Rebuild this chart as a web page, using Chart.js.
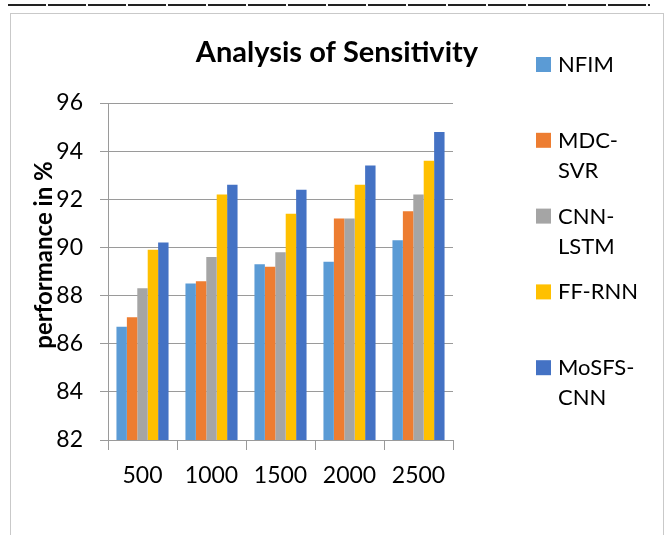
<!DOCTYPE html>
<html>
<head>
<meta charset="utf-8">
<script src="https://cdn.jsdelivr.net/npm/chart.js@4.4.0/dist/chart.umd.min.js"></script>
<style>
  html, body { margin: 0; padding: 0; background: #fff; }
  #wrap { position: relative; width: 665px; height: 535px; overflow: hidden; }
  #rule { position: absolute; left: 8px; top: 4px; width: 642px; height: 2px;
          background: repeating-linear-gradient(90deg, #222 0 38px, #fff 38px 40px); }
  #frame { position: absolute; left: 10px; top: 13px; width: 654px; height: 540px;
           border: 1px solid #c9c9c9; box-sizing: border-box; }
  canvas { position: absolute; left: 0; top: 0; }
</style>
</head>
<body>
<div id="wrap">
  <div id="rule"></div>
  <div id="frame"></div>
  <canvas id="sensChart" width="665" height="535"></canvas>
</div>
<script>
const categories = ['500', '1000', '1500', '2000', '2500'];
const nfim   = [86.7, 88.5, 89.3, 89.4, 90.3];
const mdcSvr = [87.1, 88.6, 89.2, 91.2, 91.5];
const cnnLstm = [88.3, 89.6, 89.8, 91.2, 92.2];
const ffRnn  = [89.9, 92.2, 91.4, 92.6, 93.6];
const mosfs  = [90.2, 92.6, 92.4, 93.4, 94.8];
const yMin = 82, yMax = 96, yStep = 2;

const FONT = 'Lato, "Open Sans", sans-serif';

// splits "MDC-SVR" after the hyphen when it doesn't fit
function wrapLabel(ctx, text, maxW) {
    if (ctx.measureText(text).width <= maxW || text.indexOf('-') < 0) return [text];
    const i = text.indexOf('-') + 1;
    return [text.slice(0, i), text.slice(i)];
}

// chart title, y axis title and the wrapped legend on the right
const titleAndLegend = {
    id: 'titleAndLegend',
    afterDraw(chart) {
        const ctx = chart.ctx;
        ctx.save();
        ctx.fillStyle = '#000';
        ctx.font = 'bold 29px ' + FONT;
        ctx.textAlign = 'center';
        ctx.textBaseline = 'middle';
        ctx.fillText('Analysis of Sensitivity', 337, 53);

        ctx.save();
        ctx.translate(44, 255);
        ctx.rotate(-Math.PI / 2);
        ctx.font = 'bold 24px ' + FONT;
        ctx.fillText('performance in %', 0, 0);
        ctx.restore();

        ctx.font = '22px ' + FONT;
        ctx.textAlign = 'left';
        chart.data.datasets.forEach(function(ds, i) {
            const y = 57 + i * 75.8;
            ctx.fillStyle = ds.backgroundColor;
            ctx.fillRect(536, y, 15, 15);
            ctx.fillStyle = '#000';
            wrapLabel(ctx, ds.label, 85).forEach(function(line, j) {
                ctx.fillText(line, 558, y + 8 + j * 30);
            });
        });
        ctx.restore();
    }
};

function makeSet(label, data, color) {
    return { label: label, data: data, backgroundColor: color, borderWidth: 0 };
}

const ctx = document.getElementById('sensChart').getContext('2d');
new Chart(ctx, {
    type: 'bar',
    data: {
        labels: categories,
        datasets: [
            makeSet('NFIM', nfim, '#5B9BD5'),
            makeSet('MDC-SVR', mdcSvr, '#ED7D31'),
            makeSet('CNN-LSTM', cnnLstm, '#A5A5A5'),
            makeSet('FF-RNN', ffRnn, '#FFC000'),
            makeSet('MoSFS-CNN', mosfs, '#4472C4')
        ]
    },
    options: {
        responsive: false,
        animation: false,
        layout: { padding: { top: 103, right: 212, bottom: 0, left: 0 } },
        plugins: {
            legend: { display: false },
            tooltip: { enabled: false }
        },
        datasets: {
            bar: { categoryPercentage: 0.755, barPercentage: 1.0 }
        },
        scales: {
            x: {
                grid: { drawOnChartArea: false, drawTicks: true, tickLength: 10, color: '#9a9a9a', offset: true },
                border: { color: '#9a9a9a' },
                ticks: { color: '#000', font: { family: FONT, size: 23 }, padding: 12 },
                afterFit: function(scale) { scale.height = 95; }
            },
            y: {
                min: yMin,
                max: yMax,
                grid: { color: '#9a9a9a', tickLength: 8 },
                border: { color: '#9a9a9a' },
                ticks: { stepSize: yStep, color: '#000', font: { family: FONT, size: 23 }, padding: 17 },
                afterFit: function(scale) { scale.width = 108; }
            }
        }
    },
    plugins: [titleAndLegend]
});
</script>
</body>
</html>
